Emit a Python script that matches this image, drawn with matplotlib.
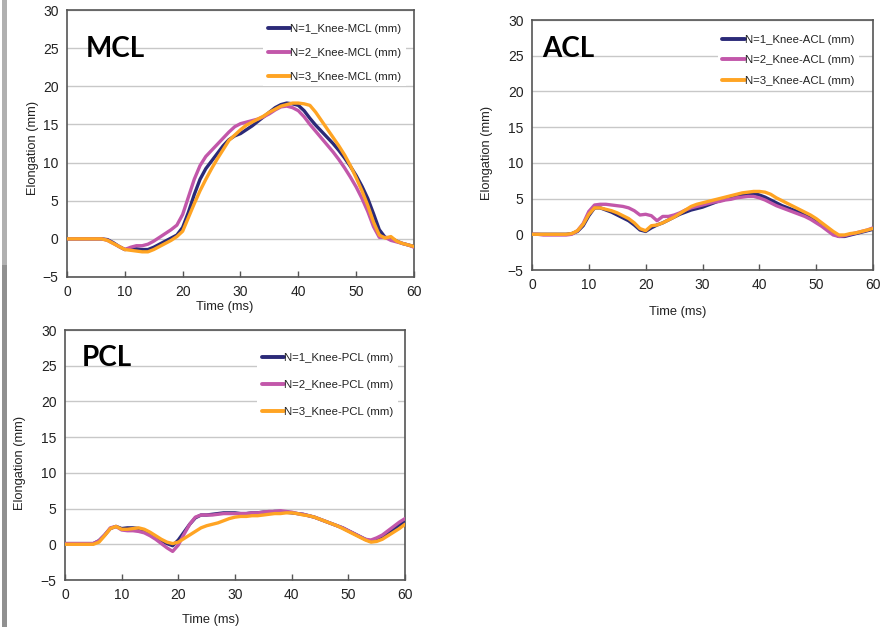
import matplotlib
matplotlib.use("Agg")
import matplotlib.pyplot as plt
from matplotlib.patches import Rectangle

time_ms = list(range(0, 61))

mcl_n1 = [0, 0, 0, 0, 0, 0, 0, -0.1, -0.5, -1.0, -1.4, -1.3, -1.3, -1.4, -1.4, -1.1, -0.7, -0.3, 0.1, 0.5,
          1.5, 3.5, 5.8, 7.8, 9.2, 10.2, 11.2, 12.2, 13.0, 13.5, 13.8, 14.3, 14.8, 15.4, 16.0, 16.6, 17.2, 17.6,
          17.8, 17.7, 17.5, 16.8, 15.8, 14.9, 14.1, 13.3, 12.5, 11.6, 10.6, 9.5, 8.3, 6.9, 5.3, 3.3, 1.2, 0.2,
          0.1, -0.3, -0.6, -0.8, -1.0]
mcl_n2 = [0, 0, 0, 0, 0, 0, 0, -0.2, -0.6, -1.0, -1.4, -1.1, -0.9, -0.9, -0.7, -0.3, 0.2, 0.7, 1.2, 1.8,
          3.2, 5.5, 7.8, 9.6, 10.8, 11.6, 12.4, 13.2, 14.0, 14.7, 15.1, 15.3, 15.5, 15.7, 16.0, 16.4, 16.9, 17.3,
          17.4, 17.2, 16.8, 16.0, 15.0, 14.1, 13.2, 12.3, 11.4, 10.4, 9.3, 8.1, 6.8, 5.3, 3.6, 1.6, 0.2, 0.2,
          -0.2, -0.4, -0.6, -0.8, -1.1]
mcl_n3 = [0, 0, 0, 0, 0, 0, 0, -0.2, -0.6, -1.0, -1.4, -1.5, -1.6, -1.7, -1.7, -1.4, -1.0, -0.6, -0.2, 0.3,
          1.0, 2.8, 4.6, 6.3, 7.8, 9.2, 10.5, 11.7, 12.9, 13.6, 14.3, 14.9, 15.3, 15.7, 16.1, 16.6, 17.0, 17.4,
          17.6, 17.8, 17.8, 17.7, 17.5, 16.6, 15.5, 14.4, 13.3, 12.2, 11.0, 9.6, 8.0, 6.3, 4.4, 2.2, 0.5, 0.1,
          0.3, -0.3, -0.6, -0.8, -1.0]

acl_n1 = [0, 0, 0, 0, 0, 0, 0, 0.1, 0.4, 1.2, 2.6, 3.7, 3.7, 3.4, 3.1, 2.7, 2.3, 1.9, 1.3, 0.6,
          0.4, 0.9, 1.3, 1.6, 2.0, 2.4, 2.8, 3.1, 3.4, 3.6, 3.8, 4.1, 4.4, 4.7, 4.9, 5.1, 5.3, 5.5,
          5.7, 5.7, 5.5, 5.2, 4.8, 4.4, 4.0, 3.7, 3.4, 3.1, 2.7, 2.3, 1.8, 1.3, 0.7, 0.1, -0.3, -0.3,
          -0.1, 0.1, 0.3, 0.5, 0.7]
acl_n2 = [0, 0, -0.1, -0.1, -0.1, -0.1, -0.1, 0.0, 0.5, 1.5, 3.2, 4.1, 4.2, 4.2, 4.1, 4.0, 3.9, 3.7, 3.3, 2.7,
          2.8, 2.6, 1.9, 2.5, 2.5, 2.7, 3.0, 3.4, 3.7, 3.9, 4.1, 4.3, 4.5, 4.6, 4.8, 4.9, 5.1, 5.2,
          5.3, 5.3, 5.1, 4.8, 4.4, 4.0, 3.7, 3.4, 3.1, 2.8, 2.5, 2.1, 1.6, 1.1, 0.5, -0.1, -0.3, -0.2,
          0.0, 0.2, 0.4, 0.6, 0.9]
acl_n3 = [0, 0, 0, 0, 0, 0, 0, 0.1, 0.5, 1.4, 2.8, 3.7, 3.7, 3.5, 3.3, 3.0, 2.6, 2.2, 1.6, 0.8,
          0.5, 1.2, 1.3, 1.6, 2.0, 2.4, 2.9, 3.4, 3.9, 4.2, 4.4, 4.6, 4.8, 5.0, 5.2, 5.4, 5.6, 5.8,
          5.9, 6.0, 6.0, 5.9, 5.6, 5.1, 4.7, 4.3, 3.9, 3.5, 3.1, 2.7, 2.2, 1.6, 1.0, 0.4, -0.1, -0.1,
          0.1, 0.2, 0.4, 0.6, 0.8]

pcl_n1 = [0.1, 0.1, 0.1, 0.1, 0.1, 0.1, 0.5, 1.3, 2.2, 2.5, 2.2, 2.3, 2.3, 2.2, 1.9, 1.5, 1.0, 0.5, 0.1, -0.2,
          0.6, 1.7, 2.8, 3.7, 4.1, 4.1, 4.2, 4.3, 4.4, 4.4, 4.4, 4.3, 4.3, 4.4, 4.4, 4.5, 4.5, 4.6,
          4.6, 4.5, 4.4, 4.3, 4.2, 4.0, 3.8, 3.5, 3.2, 2.9, 2.6, 2.3, 1.9, 1.5, 1.1, 0.7, 0.4, 0.6,
          1.0, 1.5, 2.1, 2.7, 3.2]
pcl_n2 = [0.1, 0.1, 0.1, 0.1, 0.1, 0.1, 0.5, 1.3, 2.3, 2.5, 2.0, 1.9, 1.9, 1.8, 1.6, 1.2, 0.7, 0.1, -0.5, -1.0,
          -0.1, 1.4, 2.8, 3.8, 4.1, 4.1, 4.1, 4.2, 4.3, 4.3, 4.3, 4.3, 4.3, 4.4, 4.4, 4.5, 4.6, 4.6,
          4.7, 4.6, 4.5, 4.3, 4.2, 4.0, 3.8, 3.5, 3.2, 2.9, 2.6, 2.3, 1.9, 1.5, 1.1, 0.7, 0.6, 0.9,
          1.3, 1.9, 2.5, 3.1, 3.6]
pcl_n3 = [0.0, 0.0, 0.0, 0.0, 0.0, 0.0, 0.3, 1.2, 2.2, 2.5, 2.1, 2.1, 2.2, 2.3, 2.1, 1.7, 1.2, 0.7, 0.3, 0.1,
          0.3, 0.8, 1.3, 1.8, 2.3, 2.6, 2.8, 3.0, 3.3, 3.6, 3.8, 3.9, 3.9, 4.0, 4.0, 4.1, 4.2, 4.3,
          4.3, 4.4, 4.4, 4.3, 4.1, 4.0, 3.8, 3.5, 3.2, 2.9, 2.6, 2.2, 1.8, 1.4, 1.0, 0.6, 0.3, 0.4,
          0.7, 1.2, 1.7, 2.2, 2.8]

x_ticks = [0, 10, 20, 30, 40, 50, 60]
y_ticks = [-5, 0, 5, 10, 15, 20, 25, 30]
series_colors = ["#2B2A78", "#C257AA", "#FFA423"]

W, H = 883, 627
fig = plt.figure(figsize=(W / 100, H / 100), dpi=100)
fig.patch.set_facecolor("white")

# gray bar at left edge
fig.patches.append(Rectangle((2 / W, 1 - 265 / H), 5 / W, 265 / H, transform=fig.transFigure,
                             facecolor="#b0b0b0", edgecolor="none"))
fig.patches.append(Rectangle((2 / W, 0), 5 / W, 1 - 265 / H, transform=fig.transFigure,
                             facecolor="#909090", edgecolor="none"))

TICKFONT = "Liberation Sans"


def px_axes(l, t, r, b):
    return [l / W, 1 - b / H, (r - l) / W, (b - t) / H]


panels = [
    dict(name="MCL", box=(67, 10, 414, 277), data=[mcl_n1, mcl_n2, mcl_n3],
         title_xy=(86, 57), leg_anchor=(0.565, 0.963), leg_space=1.2,
         xlabel_xy=(225, 307), ylabel_xy=(33, 148)),
    dict(name="ACL", box=(532, 20, 873, 270), data=[acl_n1, acl_n2, acl_n3],
         title_xy=(542, 57), leg_anchor=(0.545, 0.958), leg_space=0.9,
         xlabel_xy=(678, 312), ylabel_xy=(487, 153)),
    dict(name="PCL", box=(65, 330, 405, 580), data=[pcl_n1, pcl_n2, pcl_n3],
         title_xy=(82, 366), leg_anchor=(0.565, 0.926), leg_space=1.5,
         xlabel_xy=(211, 620), ylabel_xy=(20, 463)),
]

for p in panels:
    ax = fig.add_axes(px_axes(*p["box"]))
    for i, (vals, c) in enumerate(zip(p["data"], series_colors)):
        ax.plot(time_ms, vals, color=c, lw=2.4, solid_capstyle="round", solid_joinstyle="round",
                label=f"N={i + 1}_Knee-{p['name']} (mm)", zorder=3 + i)
    ax.set_xlim(0, 60)
    ax.set_ylim(-5, 30)
    ax.set_xticks(x_ticks)
    ax.set_yticks(y_ticks)
    ax.yaxis.grid(True, color="#c8c8c8", lw=1.0)
    ax.set_axisbelow(True)
    for s in ax.spines.values():
        s.set_color("#555555")
        s.set_linewidth(1.2)
    ax.tick_params(direction="in", length=4, width=1, color="#555555",
                   labelsize=10, labelcolor="#222222", pad=6)
    ax.tick_params(axis="y", length=0)
    for lab in ax.get_xticklabels() + ax.get_yticklabels():
        lab.set_fontfamily(TICKFONT)
    leg = ax.legend(loc="upper left", bbox_to_anchor=p["leg_anchor"], frameon=True,
                    fancybox=False, framealpha=1, edgecolor="none", facecolor="white",
                    prop={"family": TICKFONT, "size": 8.2}, handlelength=1.95, handletextpad=0.05,
                    labelspacing=p["leg_space"], borderpad=0.4, borderaxespad=0)
    for line in leg.get_lines():
        line.set_linewidth(2.8)
    for t in leg.get_texts():
        t.set_color("#222222")
    leg.set_zorder(10)
    tx, ty = p["title_xy"]
    fig.text(tx / W, 1 - ty / H, p["name"], fontsize=20, fontweight="bold",
             family="Lato", color="black", va="baseline", ha="left", zorder=20)
    lx, ly = p["xlabel_xy"]
    fig.text(lx / W, 1 - ly / H, "Time (ms)", fontsize=9.3, family=TICKFONT,
             color="#222222", ha="center", va="center")
    yx, yy = p["ylabel_xy"]
    fig.text(yx / W, 1 - yy / H, "Elongation (mm)", fontsize=9.3, family=TICKFONT,
             color="#222222", ha="center", va="center", rotation=90)

fig.savefig("out.png", dpi=100, facecolor="white")
